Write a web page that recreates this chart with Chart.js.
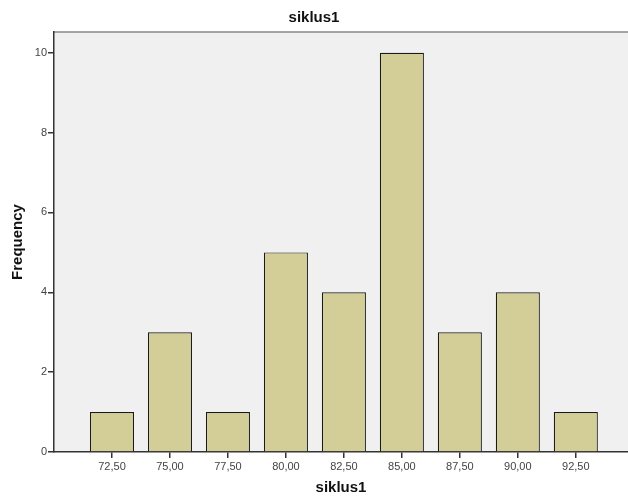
<!DOCTYPE html>
<html lang="en">
<head>
    <title>siklus1</title>
    <meta charset="utf-8">
    <script src="https://cdn.jsdelivr.net/npm/chart.js"></script>
<style>
        html, body {
            margin: 0;
            padding: 0;
            background: white;
            overflow: hidden;
        }
        #wrap {
            width: 628px;
            height: 497px;
        }
    </style>
</head>
<body>
    <div id="wrap">
        <canvas id="histChart" width="628" height="497"></canvas>
    </div>

    <script>
        const categories = ['72,50', '75,00', '77,50', '80,00', '82,50', '85,00', '87,50', '90,00', '92,50'];
        const frequencies = [1, 3, 1, 5, 4, 10, 3, 4, 1];
        const yTicks = [0, 2, 4, 6, 8, 10];

        const font = 'Arial, "Liberation Sans", sans-serif';

        // grey plot background + top frame line
        const plotFrame = {
            id: 'plotFrame',
            beforeDraw(chart) {
                const a = chart.chartArea;
                const ctx = chart.ctx;
                ctx.save();
                ctx.fillStyle = '#f0f0f0';
                ctx.fillRect(a.left, a.top, chart.width - a.left, a.bottom - a.top);
                ctx.strokeStyle = '#8a8a8a';
                ctx.lineWidth = 1.5;
                ctx.beginPath();
                ctx.moveTo(a.left, a.top);
                ctx.lineTo(chart.width, a.top);
                ctx.stroke();
                ctx.restore();
            }
        };

        new Chart(document.getElementById('histChart'), {
            type: 'bar',
            data: {
                datasets: [{
                    label: 'siklus1',
                    data: frequencies.map((f, i) => ({ x: i + 1, y: f })),
                    backgroundColor: '#d3ce97',
                    borderColor: '#1a1a1a',
                    borderWidth: 1.2,
                    barPercentage: 0.76,
                    categoryPercentage: 1
                }]
            },
            options: {
                responsive: false,
                animation: false,
                layout: { padding: { left: 0, right: 0, top: 0, bottom: 0 } },
                plugins: {
                    legend: { display: false },
                    tooltip: { enabled: false },
                    title: {
                        display: true,
                        text: 'siklus1',
                        color: '#111',
                        font: { family: font, size: 15, weight: 'bold' },
                        padding: { top: 9, bottom: 5 }
                    }
                },
                scales: {
                    x: {
                        type: 'linear',
                        offset: false,
                        min: 0,
                        max: 9.9,
                        afterBuildTicks: (s) => { s.ticks = categories.map((c, i) => ({ value: i + 1 })); },
                        afterFit: (s) => { s.height = 45; },
                        border: { color: '#333', width: 1.5 },
                        grid: { offset: false, drawOnChartArea: false, tickLength: 6, color: '#333', lineWidth: 1.5 },
                        ticks: {
                            autoSkip: false,
                            maxRotation: 0,
                            padding: 2,
                            color: '#444',
                            font: { family: font, size: 11 },
                            callback: (v) => categories[v - 1]
                        },
                        title: {
                            display: true,
                            text: 'siklus1',
                            color: '#111',
                            font: { family: font, size: 15, weight: 'bold' },
                            padding: { top: 4, bottom: 0 }
                        }
                    },
                    y: {
                        min: 0,
                        max: 10.52,
                        afterBuildTicks: (s) => { s.ticks = yTicks.map(v => ({ value: v })); },
                        afterFit: (s) => { s.width = 54; },
                        border: { color: '#333', width: 1.5 },
                        grid: { drawOnChartArea: false, tickLength: 6, color: '#333', lineWidth: 1.5 },
                        ticks: {
                            padding: 1,
                            color: '#444',
                            font: { family: font, size: 11 }
                        },
                        title: {
                            display: true,
                            text: 'Frequency',
                            color: '#111',
                            font: { family: font, size: 15, weight: 'bold' },
                            padding: { top: 9, bottom: 0 }
                        }
                    }
                }
            },
            plugins: [plotFrame]
        });
    </script>
</body>
</html>
